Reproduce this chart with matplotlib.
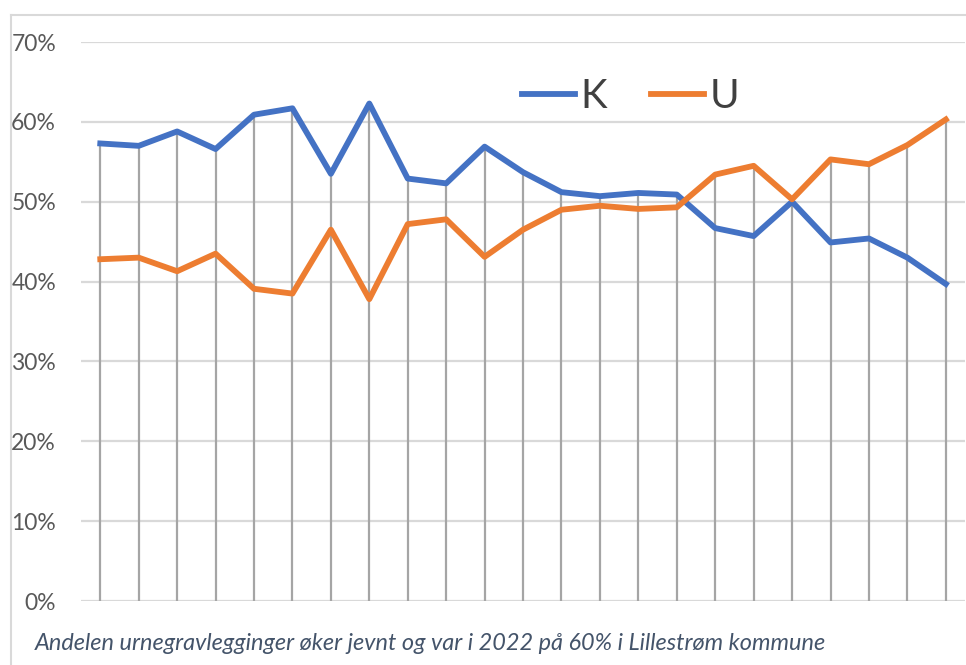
import matplotlib.pyplot as plt
import numpy as np
from matplotlib.lines import Line2D

years = list(range(2000, 2023))
k_share = [57.3, 57.0, 58.8, 56.6, 60.9, 61.7, 53.5, 62.3, 52.9, 52.3, 56.9, 53.7,
           51.2, 50.7, 51.1, 50.9, 46.7, 45.7, 50.0, 44.9, 45.4, 43.0, 39.7]
u_share = [42.8, 43.0, 41.3, 43.5, 39.1, 38.5, 46.5, 37.8, 47.2, 47.8, 43.1, 46.5,
           49.0, 49.5, 49.1, 49.3, 53.4, 54.5, 50.3, 55.3, 54.7, 57.1, 60.3]
ticks = [0, 10, 20, 30, 40, 50, 60, 70]
caption = "Andelen urnegravlegginger øker jevnt og var i 2022 på 60% i Lillestrøm kommune"

plt.rcParams['font.family'] = ['Lato', 'DejaVu Sans']

fig = plt.figure(figsize=(9.66, 6.65), dpi=100)
ax = fig.add_axes([0.0839, 0.0962, 0.9151, 0.8406])

x = np.arange(len(years))
k = np.array(k_share)
u = np.array(u_share)

ax.vlines(x, 0, np.maximum(k, u), color='#A5A5A5', lw=1.6, zorder=2)
ax.plot(x, k, color='#4472C4', lw=4.2, label='K', zorder=3)
ax.plot(x, u, color='#ED7D31', lw=4.2, label='U', zorder=3)

ax.set_xlim(-0.5, len(years) - 0.5)
ax.set_ylim(0, 70)
ax.set_yticks(ticks)
ax.set_yticklabels([f'{t}%' for t in ticks], fontsize=16.5, color='#595959')
ax.set_xticks([])
ax.tick_params(axis='y', length=0, pad=18)
ax.grid(axis='y', color='#D9D9D9', lw=1.6, zorder=0)
for s in ax.spines.values():
    s.set_visible(False)

ax.legend(loc='center', bbox_to_anchor=(0.622, 0.902), ncol=2, frameon=False,
          fontsize=29, handlelength=1.3, columnspacing=1.1, handletextpad=0.15,
          labelcolor='#404040')

# frame around picture
fig.add_artist(Line2D([11/966, 11/966], [0, 1 - 15/665], color='#D9D9D9', lw=1.5))
fig.add_artist(Line2D([11/966, 1], [1 - 15/665, 1 - 15/665], color='#D9D9D9', lw=1.5))

fig.text(35/966, 1 - 644/665, caption, fontsize=16.9, style='italic', color='#44546A',
         va='center', ha='left')

fig.savefig('out.png', dpi=100)
